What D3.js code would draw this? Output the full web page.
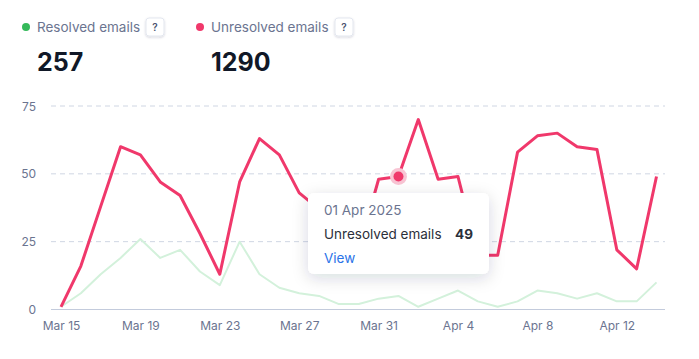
<!DOCTYPE html>
<html>
<head>
<meta charset="utf-8">
<script src="https://cdn.jsdelivr.net/npm/d3@7"></script>
<style>
  html, body { margin: 0; padding: 0; background: #fff; }
  svg { display: block; font-family: Inter, "Open Sans", sans-serif; }
</style>
</head>
<body>
<svg id="chart" width="699" height="359"></svg>
<script>
// data
var startDate = "2025-03-15";
var resolved = [1, 6, 13, 19, 26, 19, 22, 14, 9, 25, 13, 8, 6, 5, 2, 2, 4, 5, 1, 4, 7, 3, 1, 3, 7, 6, 4, 6, 3, 3, 10];
var unresolved = [1, 16, 38, 60, 57, 47, 42, 28, 13, 47, 63, 57, 43, 37, 30, 22, 48, 49, 70, 48, 49, 20, 20, 58, 64, 65, 60, 59, 22, 15, 49];
var yTicks = [0, 25, 50, 75];
var totals = { resolved: "257", unresolved: "1290" };
var tooltipIndex = 17; // 01 Apr 2025

var svg = d3.select("#chart");
var parse = d3.utcParse("%Y-%m-%d");
var start = parse(startDate);
var dates = unresolved.map(function (d, i) { return d3.utcDay.offset(start, i); });

var x = d3.scaleUtc()
    .domain([dates[0], dates[dates.length - 1]])
    .range([61, 656.5]);
var y = d3.scaleLinear().domain([0, 75]).range([309.5, 106]);

var defs = svg.append("defs");
var shadow = defs.append("filter").attr("id", "shadow")
    .attr("x", "-30%").attr("y", "-30%").attr("width", "160%").attr("height", "170%");
shadow.append("feDropShadow").attr("dx", 0).attr("dy", 4).attr("stdDeviation", 8)
    .attr("flood-color", "#1f2a44").attr("flood-opacity", 0.16);
var smallShadow = defs.append("filter").attr("id", "smallShadow")
    .attr("x", "-50%").attr("y", "-50%").attr("width", "200%").attr("height", "200%");
smallShadow.append("feDropShadow").attr("dx", 0).attr("dy", 1).attr("stdDeviation", 1)
    .attr("flood-color", "#1f2a44").attr("flood-opacity", 0.18);

// header
var legends = [
    { label: "Resolved emails", color: "#35b95a", x: 26, total: totals.resolved, help: 146 },
    { label: "Unresolved emails", color: "#f0386b", x: 200, total: totals.unresolved, help: 335 }
];
var head = svg.append("g").selectAll("g").data(legends).enter().append("g");
head.append("circle").attr("cx", function (d) { return d.x; }).attr("cy", 27).attr("r", 4)
    .attr("fill", function (d) { return d.color; });
head.append("text").attr("x", function (d) { return d.x + 11; }).attr("y", 32)
    .attr("font-size", 13.5).attr("fill", "#6b7490").text(function (d) { return d.label; });
head.append("rect").attr("x", function (d) { return d.help; }).attr("y", 18)
    .attr("width", 18).attr("height", 18).attr("rx", 3)
    .attr("fill", "#fff").attr("stroke", "#e3e7ef").attr("filter", "url(#smallShadow)");
head.append("text").attr("x", function (d) { return d.help + 9; }).attr("y", 31)
    .attr("text-anchor", "middle").attr("font-size", 10).attr("font-weight", 600)
    .attr("fill", "#4b5470").text("?");
head.append("text").attr("x", function (d) { return d.x + 11; }).attr("y", 71)
    .attr("font-size", 25).attr("font-weight", 700).attr("fill", "#111827")
    .text(function (d) { return d.total; });

// grid + y axis
var grid = svg.append("g");
grid.selectAll("line").data(yTicks.filter(function (t) { return t > 0; })).enter().append("line")
    .attr("x1", 51).attr("x2", 665)
    .attr("y1", function (d) { return y(d); }).attr("y2", function (d) { return y(d); })
    .attr("stroke", "#cfd6e3").attr("stroke-dasharray", "5,4");
grid.append("line").attr("x1", 51).attr("x2", 665).attr("y1", y(0)).attr("y2", y(0))
    .attr("stroke", "#c3cbdc");

grid.selectAll("text").data(yTicks).enter().append("text")
    .attr("x", 36).attr("y", function (d) { return y(d) + 4.5; })
    .attr("text-anchor", "end").attr("font-size", 12).attr("fill", "#6b7490")
    .text(function (d) { return d; });

// x axis
var xAxis = d3.axisBottom(x)
    .tickValues(dates.filter(function (d, i) { return i % 4 === 0; }))
    .tickFormat(d3.utcFormat("%b %-d"))
    .tickSize(0).tickPadding(12);
var xg = svg.append("g").attr("transform", "translate(0," + y(0) + ")").call(xAxis);
xg.select(".domain").remove();
xg.selectAll("text").attr("font-size", 12).attr("fill", "#6b7490")
    .attr("font-family", "Inter, sans-serif");

// lines
var line = function (vals) {
    return d3.line()
        .x(function (d, i) { return x(dates[i]); })
        .y(function (d) { return y(d); })(vals);
};
svg.append("path").attr("d", line(resolved)).attr("fill", "none")
    .attr("stroke", "#d3f1db").attr("stroke-width", 2).attr("stroke-linejoin", "round");
svg.append("path").attr("d", line(unresolved)).attr("fill", "none")
    .attr("stroke", "#f0386b").attr("stroke-width", 3).attr("stroke-linejoin", "round");

// hovered point
var px = x(dates[tooltipIndex]), py = y(unresolved[tooltipIndex]);
svg.append("circle").attr("cx", px).attr("cy", py).attr("r", 8.5).attr("fill", "#f8c4d3");
svg.append("circle").attr("cx", px).attr("cy", py).attr("r", 5).attr("fill", "#f0386b");

// tooltip
var tip = svg.append("g").attr("transform", "translate(308,193)");
tip.append("rect").attr("width", 181).attr("height", 81).attr("rx", 6)
    .attr("fill", "#fff").attr("filter", "url(#shadow)");
tip.append("text").attr("x", 16).attr("y", 22).attr("font-size", 13.5).attr("fill", "#6b7490")
    .text(d3.utcFormat("%d %b %Y")(dates[tooltipIndex]));
tip.append("text").attr("x", 16).attr("y", 46).attr("font-size", 13.5).attr("fill", "#2b2f3a")
    .text("Unresolved emails");
tip.append("text").attr("x", 165).attr("y", 46).attr("text-anchor", "end")
    .attr("font-size", 13.5).attr("font-weight", 700).attr("fill", "#2b2f3a")
    .text(unresolved[tooltipIndex]);
tip.append("text").attr("x", 16).attr("y", 70).attr("font-size", 13.5).attr("fill", "#2a73e8")
    .text("View");
</script>
</body>
</html>
